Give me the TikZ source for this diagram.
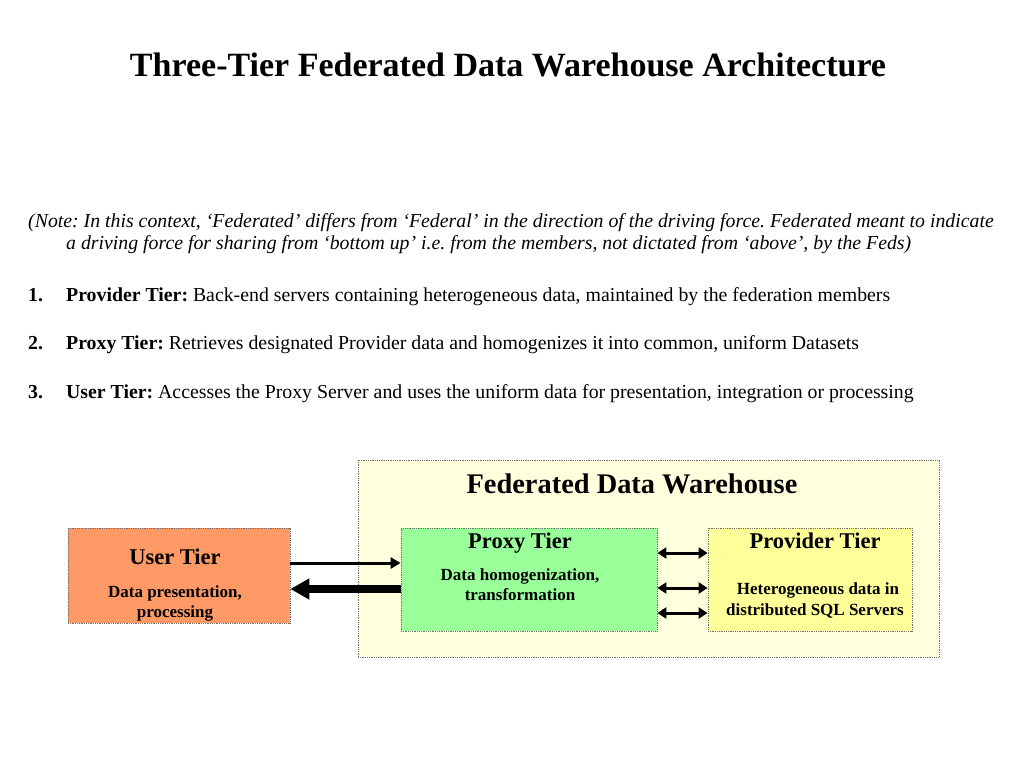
\documentclass[tikz,border=0pt]{standalone}
\usepackage{fontspec}
\setmainfont{Liberation Serif}
\usetikzlibrary{arrows.meta}
\frenchspacing
\definecolor{fdwfill}{HTML}{FFFFDD}
\definecolor{userfill}{HTML}{FF9966}
\definecolor{proxyfill}{HTML}{99FF99}
\definecolor{provfill}{HTML}{FFFF99}
\definecolor{bordergray}{HTML}{707070}
\tikzset{
  tierbox/.style={draw=bordergray, densely dotted, line width=0.8pt, inner sep=0pt},
  txt/.style={inner sep=0pt, anchor=base west},
  ctxt/.style={inner sep=0pt, anchor=base},
  bodyfont/.style={font=\fontsize{19.8}{23}\selectfont},
  headfont/.style={font=\fontsize{22.5}{26}\selectfont\bfseries},
  subfont/.style={font=\fontsize{17}{20}\selectfont\bfseries},
  dbl/.style={{Triangle[length=9pt,width=11pt]}-{Triangle[length=9pt,width=11pt]}, line width=3pt},
}
\begin{document}
\begin{tikzpicture}[x=1pt,y=-1pt]
\useasboundingbox[fill=white] (0,0) rectangle (1024,768);
% title
\node[ctxt, font=\fontsize{34}{40}\selectfont\bfseries] (title) at (508,77) {Three-Tier Federated Data Warehouse Architecture};
% note
\node[txt, font=\fontsize{19.8}{23}\selectfont\itshape] (note1) at (28,227) {(Note: In this context, ‘Federated’ differs from ‘Federal’ in the direction of the driving force. Federated meant to indicate};
\node[txt, font=\fontsize{19.8}{23}\selectfont\itshape] (note2) at (66,249) {a driving force for sharing from ‘bottom up’ i.e. from the members, not dictated from ‘above’, by the Feds)};
% items
\node[txt, bodyfont] (num1) at (28,301) {\textbf{1.}};
\node[txt, bodyfont] (item1) at (66,301) {\textbf{Provider Tier:} Back-end servers containing heterogeneous data, maintained by the federation members};
\node[txt, bodyfont] (num2) at (28,349) {\textbf{2.}};
\node[txt, bodyfont] (item2) at (66,349) {\textbf{Proxy Tier:} Retrieves designated Provider data and homogenizes it into common, uniform Datasets};
\node[txt, bodyfont] (num3) at (28,398) {\textbf{3.}};
\node[txt, bodyfont] (item3) at (66,398) {\textbf{User Tier:} Accesses the Proxy Server and uses the uniform data for presentation, integration or processing};
% FDW box
\node[tierbox, fill=fdwfill, minimum width=581pt, minimum height=197pt] (fdw) at (648.5,558.5) {};
\node[ctxt, font=\fontsize{28.4}{32}\selectfont\bfseries] (fdwtitle) at (632,493) {Federated Data Warehouse};
% tier boxes
\node[tierbox, fill=userfill, minimum width=222pt, minimum height=95pt] (user) at (179,575.5) {};
\node[tierbox, fill=proxyfill, minimum width=256pt, minimum height=103pt] (proxy) at (529,579.5) {};
\node[tierbox, fill=provfill, minimum width=204pt, minimum height=103pt] (prov) at (810,579.5) {};
% texts in boxes
\node[ctxt, headfont] (usert) at (175,564) {User Tier};
\node[ctxt, subfont] (users1) at (175,597) {Data presentation,};
\node[ctxt, subfont] (users2) at (175,617) {processing};
\node[ctxt, headfont] (proxyt) at (520,548) {Proxy Tier};
\node[ctxt, subfont] (proxys1) at (520,580) {Data homogenization,};
\node[ctxt, subfont] (proxys2) at (520,600) {transformation};
\node[ctxt, headfont] (provt) at (815,548) {Provider Tier};
\node[ctxt, subfont] (provs1) at (818,594) {Heterogeneous data in};
\node[ctxt, subfont] (provs2) at (815,615) {distributed SQL Servers};
% arrows user <-> proxy
\draw[-{Triangle[length=10pt,width=11pt]}, line width=3pt] (user.east |- 0,563) -- (proxy.west |- 0,563);
\draw[-{Triangle[length=19pt,width=20pt]}, line width=7.5pt] (proxy.west |- 0,589) -- (user.east |- 0,589);
% arrows proxy <-> provider
\foreach \y in {553,588,613}{
  \draw[dbl] (proxy.east |- 0,\y) -- (prov.west |- 0,\y);
}
\end{tikzpicture}
\end{document}
